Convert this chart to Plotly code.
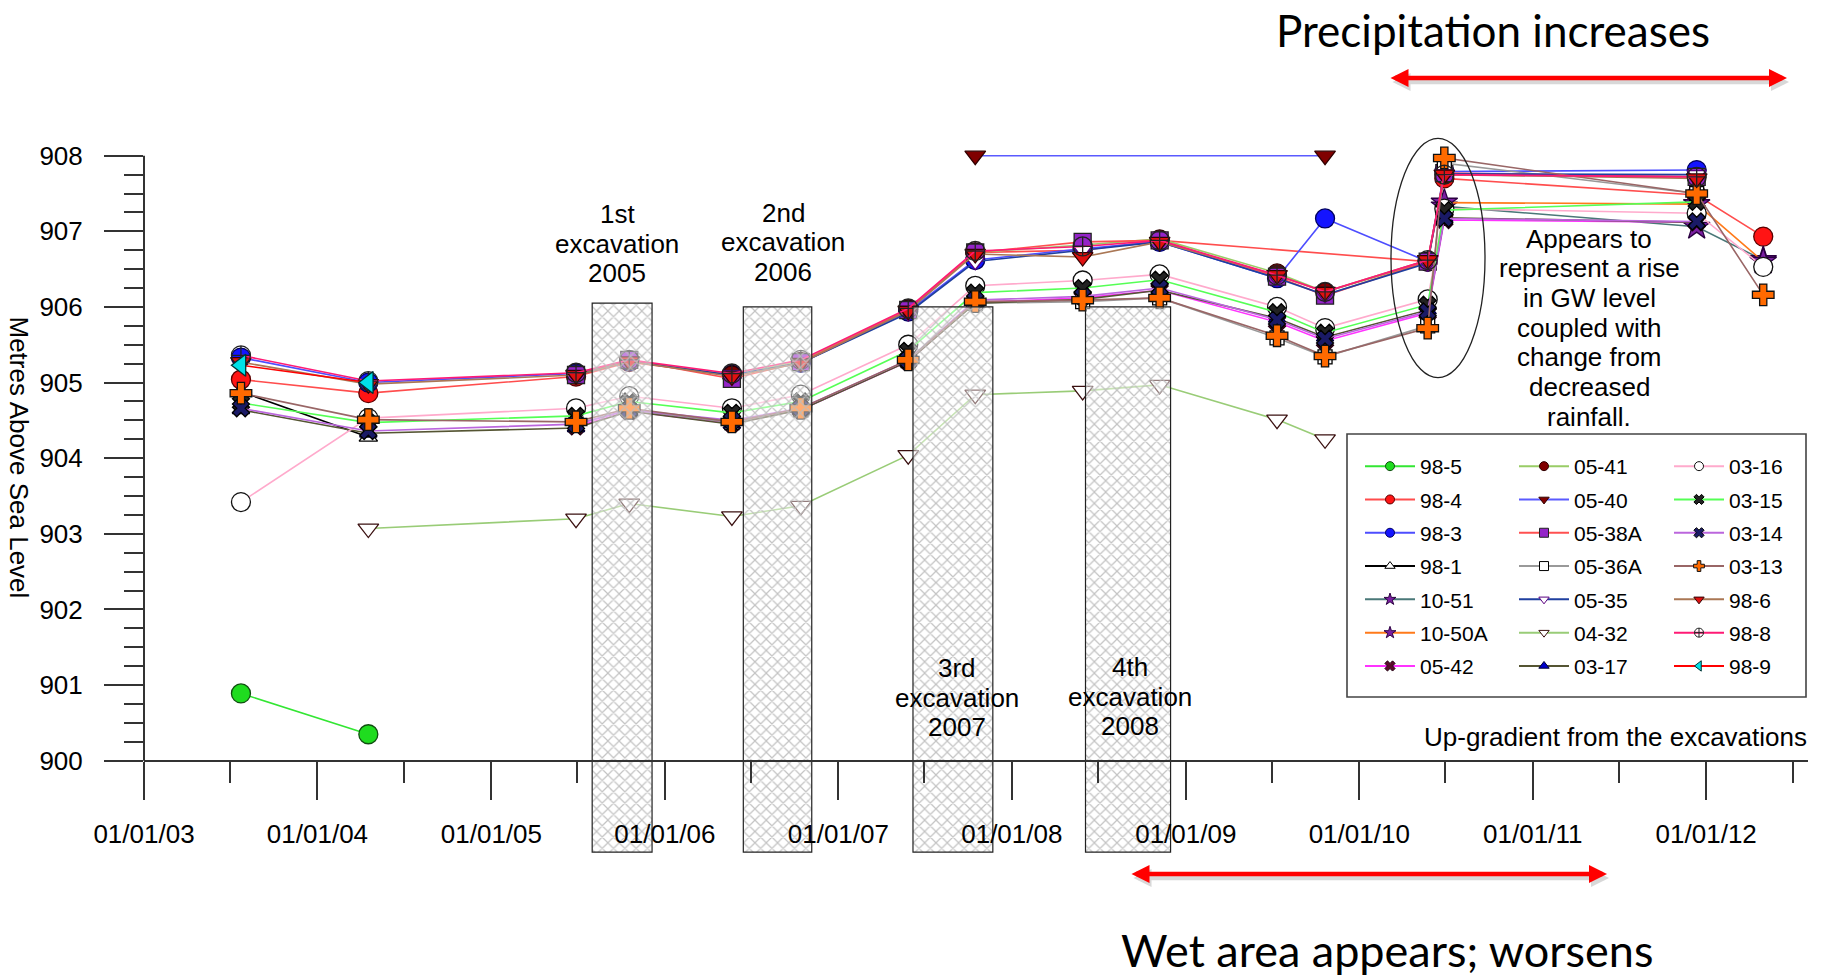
import datetime as dt
import plotly.graph_objects as go

# ---------------- data ----------------
dates = ['2003-07-24', '2004-04-17', '2005-06-28', '2005-10-18', '2006-05-22',
         '2006-10-14', '2007-05-28', '2007-10-16', '2008-05-29', '2008-11-07',
         '2009-07-12', '2009-10-21', '2010-05-25', '2010-06-29', '2011-12-12',
         '2012-04-30']
N = None
w98_5 = [900.89, 900.35, N, N, N, N, N, N, N, N, N, N, N, N, N, N]
w98_4 = [905.04, 904.86, 905.08, 905.27, 905.10, 905.27, 905.97, 906.72, 906.75, 906.88, N, N, 906.60, 907.70, 907.48, 906.93]
w98_3 = [905.33, 905.00, 905.12, 905.28, 905.10, 905.26, 905.94, 906.62, 906.77, 906.86, 906.38, 907.17, 906.60, 907.79, 907.81, N]
w98_1 = [904.88, 904.28, N, N, N, N, N, N, N, N, N, N, N, N, N, N]
w10_51 = [N, N, N, N, N, N, N, N, N, N, N, N, N, 907.33, 907.06, 906.62]
w10_50A = [N, N, N, N, N, N, N, N, N, N, N, N, N, 907.38, 907.36, 906.60]
w05_42 = [N, N, 904.42, 904.62, 904.46, 904.64, 905.28, 906.06, 906.12, 906.22, 905.80, 905.55, 905.92, 907.15, 907.12, N]
w05_41 = [N, N, 905.10, 905.29, 905.10, 905.28, 905.97, 906.72, 906.82, 906.90, 906.45, 906.20, 906.60, 907.75, 907.72, N]
w05_40 = [N, N, N, N, N, N, N, 908.0, N, N, N, 908.0, N, N, N, N]
w05_38A = [N, N, 905.10, 905.30, 905.05, 905.27, 905.96, 906.72, 906.86, 906.88, 906.40, 906.15, 906.60, 907.77, 907.72, N]
w05_36A = [N, N, 904.45, 904.64, 904.47, 904.64, 905.29, 906.05, 906.07, 906.12, 905.59, 905.34, 905.75, 907.90, 907.50, N]
w05_35 = [N, N, 905.10, 905.28, 905.10, 905.26, 905.92, 906.60, 906.75, 906.86, 906.38, 906.16, 906.58, 907.76, 907.75, N]
w04_32 = [N, 903.07, 903.20, 903.40, 903.23, 903.37, 904.04, 904.84, 904.89, 904.97, 904.51, 904.25, N, N, N, N]
w03_17 = [904.64, 904.33, 904.40, 904.62, 904.45, 904.64, 905.28, 906.05, 906.10, 906.22, 905.85, 905.60, 905.96, 907.18, 907.12, N]
w03_16 = [903.42, 904.53, 904.66, 904.82, 904.66, 904.84, 905.50, 906.28, 906.35, 906.43, 906.00, 905.72, 906.10, 907.30, 907.24, 906.53]
w03_15 = [904.73, 904.47, 904.56, 904.75, 904.60, 904.75, 905.42, 906.19, 906.25, 906.36, 905.93, 905.66, 906.03, 907.28, 907.39, N]
w03_14 = [904.66, 904.36, 904.45, 904.64, 904.50, 904.66, 905.30, 906.09, 906.14, 906.25, 905.83, 905.58, 905.94, 907.17, 907.13, N]
w03_13 = [904.86, 904.51, 904.48, 904.66, 904.48, 904.66, 905.30, 906.07, 906.09, 906.12, 905.62, 905.35, 905.72, 907.97, 907.50, 906.16]
w98_6 = [905.27, 904.98, 905.10, 905.28, 905.08, 905.26, 905.95, 906.70, 906.66, 906.86, 906.42, 906.20, 906.62, 907.75, 907.70, N]
w98_8 = [905.36, 905.02, 905.13, 905.30, 905.12, 905.30, 905.98, 906.74, 906.80, 906.88, 906.42, 906.20, 906.62, 907.75, 907.72, N]
w98_9 = [905.23, 905.00, N, N, N, N, N, N, N, N, N, N, N, N, N, N]

exc_start = ['2005-08-01', '2006-06-15', '2007-06-07', '2008-06-04']
exc_end = ['2005-12-05', '2006-11-06', '2007-11-22', '2008-11-30']
exc_top = [906.05, 906.0, 906.0, 906.0]
exc_base = 898.79
exc_labels = [['1st', 'excavation', '2005'], ['2nd', 'excavation', '2006'],
              ['3rd', 'excavation', '2007'], ['4th', 'excavation', '2008']]

x_tick_dates = ['%d-01-01' % y for y in range(2003, 2013)]
x_tick_text = ['01/01/%02d' % (y % 100) for y in range(2003, 2013)]
x_minor_dates = ['%d-07-01' % y for y in range(2003, 2013)]
y_ticks = [900, 901, 902, 903, 904, 905, 906, 907, 908]
y_minor = [900 + 0.25 * i for i in range(33) if i % 4]

note_lines = ['Appears to', 'represent a rise', 'in GW level', 'coupled with',
              'change from', 'decreased', 'rainfall.']

# (name, values, line colour, symbol, fill, outline, size, legend)
series = [
    ('98-5', w98_5, '#33e633', 'circle', '#1fdc1f', '#0f4f0f', 19, 1),
    ('98-4', w98_4, '#ff4d4d', 'circle', '#ff1414', '#5a0000', 19, 1),
    ('98-3', w98_3, '#4d4dff', 'circle', '#1414ff', '#000060', 19, 1),
    ('98-1', w98_1, '#000000', 'triangle-up', '#ffffff', '#000000', 16, 1),
    ('10-51', w10_51, '#4a7878', 'star', '#7b1fa2', '#2a0040', 20, 1),
    ('10-50A', w10_50A, '#ff7a1a', 'star', '#7b1fa2', '#2a0040', 20, 1),
    ('05-42', w05_42, '#ff33ff', 'x', '#5a0a2a', '#220011', 15, 1),
    ('05-41', w05_41, '#99cc66', 'circle', '#800000', '#300000', 18, 2),
    ('05-40', w05_40, '#5a5aff', 'triangle-down', '#800000', '#300000', 18, 2),
    ('05-38A', w05_38A, '#ff5050', 'square', '#9424c8', '#222222', 17, 2),
    ('05-36A', w05_36A, '#999999', 'square', '#ffffff', '#000000', 14, 2),
    ('05-35', w05_35, '#1f3f9f', 'triangle-down', '#ffffff', '#5a0080', 16, 2),
    ('04-32', w04_32, '#99cc77', 'triangle-down', '#ffffff', '#3a1010', 18, 2),
    ('03-17', w03_17, '#555533', 'triangle-up', '#0000cc', '#000033', 15, 2),
    ('03-16', w03_16, '#ffaacc', 'circle', '#ffffff', '#111111', 19, 3),
    ('03-15', w03_15, '#55ff55', 'x', '#222222', '#000000', 15, 3),
    ('03-14', w03_14, '#bb66dd', 'x', '#1a1a66', '#000000', 15, 3),
    ('03-13', w03_13, '#996666', 'cross', '#ff6a00', '#111111', 18, 3),
    ('98-6', w98_6, '#aa7755', 'triangle-down', '#e01010', '#330000', 18, 3),
    ('98-8', w98_8, '#ff1a75', 'circle-cross', 'rgba(255,255,255,0)', '#222222', 19, 3),
    ('98-9', w98_9, '#ff0000', 'triangle-left', '#00e0e8', '#003333', 19, 3),
]

# ---------------- geometry ----------------
W, H = 1825, 980
ML, MR, MT, MB = 144, 17, 130, 120
PW, PH = W - ML - MR, H - MT - MB
X0 = dt.datetime(2003, 1, 1)
PX_PER_DAY = (1706 - 143.8) / 3287.0
X1 = X0 + dt.timedelta(days=PW / PX_PER_DAY)
PX_PER_M = 75.625
Y900_PX = 760.7
YMIN = 900 - (H - MB - Y900_PX) / PX_PER_M
YMAX = YMIN + PH / PX_PER_M
XAXIS_POS = (900 - YMIN) / (YMAX - YMIN)


def xp(px):
    return (px - ML) / PW


def yp(py):
    return (H - MB - py) / PH


ARIAL = 'Liberation Sans, Arial, sans-serif'
CALIBRI = 'Lato, Carlito, sans-serif'

fig = go.Figure()

for name, vals, lc, sym, fill, oc, size, leg in series:
    lg = 'legend' if leg == 1 else 'legend%d' % leg
    fig.add_trace(go.Scatter(
        x=dates, y=vals, mode='lines+markers', name=name, connectgaps=True,
        line=dict(color=lc, width=1.6),
        marker=dict(symbol=sym, color=fill, size=size, line=dict(color=oc, width=1.3)),
        showlegend=False, legendgroup=name, cliponaxis=False))
    fig.add_trace(go.Scatter(
        x=[None], y=[None], mode='lines+markers', name=name, legend=lg,
        legendgroup=name,
        line=dict(color=lc, width=2),
        marker=dict(symbol=sym, color=fill, size=9, line=dict(color=oc, width=1)),
        showlegend=True))

# excavation boxes (hatched), drawn on an overlaying subplot so they sit on top
s_dt = [dt.datetime.fromisoformat(s) for s in exc_start]
e_dt = [dt.datetime.fromisoformat(e) for e in exc_end]
centers = [a + (b - a) / 2 for a, b in zip(s_dt, e_dt)]
widths = [(b - a).total_seconds() * 1000 for a, b in zip(s_dt, e_dt)]
fig.add_trace(go.Bar(
    x=centers, y=[t - exc_base for t in exc_top], base=exc_base, width=widths,
    xaxis='x2', yaxis='y2', showlegend=False, hoverinfo='skip',
    marker=dict(color='rgba(255,255,255,0.45)',
                line=dict(color='#222222', width=1.2),
                pattern=dict(shape='x', fgcolor='#bdbdbd', fgopacity=0.9,
                             bgcolor='rgba(255,255,255,0.45)', size=8, solidity=0.28))))

ann = []
# excavation labels
lab_x = [617, 783, 956.5, 1130]
lab_y = [214, 213, 668, 667]
for lines, cx, cy in zip(exc_labels, lab_x, lab_y):
    for i, t in enumerate(lines):
        ann.append(dict(text=t, x=xp(cx), y=yp(cy + i * 29.5), xref='paper', yref='paper',
                        showarrow=False, xanchor='center', yanchor='middle',
                        font=dict(family=ARIAL, size=26, color='#000')))
# note on the right
for i, t in enumerate(note_lines):
    ann.append(dict(text=t, x=xp(1589), y=yp(238.5 + i * 29.7), xref='paper', yref='paper',
                    showarrow=False, xanchor='center', yanchor='middle',
                    font=dict(family=ARIAL, size=26, color='#000')))
ann.append(dict(text='Up-gradient from the excavations', x=xp(1809), y=yp(736.7),
                xref='paper', yref='paper', showarrow=False, xanchor='right',
                yanchor='middle', font=dict(family=ARIAL, size=26, color='#000')))
ann.append(dict(text='Metres Above Sea Level', x=xp(19), y=yp(457.5), xref='paper',
                yref='paper', showarrow=False, textangle=90, xanchor='center',
                yanchor='middle', font=dict(family=ARIAL, size=26, color='#000')))
ann.append(dict(text='Precipitation increases', x=xp(1493), y=yp(2), xref='paper',
                yref='paper', showarrow=False, xanchor='center', yanchor='top',
                font=dict(family=CALIBRI, size=44, color='#000')))
ann.append(dict(text='Wet area appears; worsens', x=xp(1387), y=yp(950), xref='paper',
                yref='paper', showarrow=False, xanchor='center', yanchor='middle',
                font=dict(family=CALIBRI, size=45, color='#000')))
# double-headed red arrows (with soft shadow)
for (tx, ty, tail) in [(1787, 78, 1389), (1607, 874, 1130)]:
    for dx, dy, col in [(2, 4, 'rgba(0,0,0,0.15)'), (0, 0, '#ff0000')]:
        ann.append(dict(text='', x=xp(tx + dx), y=yp(ty + dy), xref='paper', yref='paper',
                        ax=tail - tx, ay=0, axref='pixel', ayref='pixel', showarrow=True,
                        arrowside='end+start', arrowhead=2, startarrowhead=2,
                        arrowsize=0.8, startarrowsize=0.8, arrowwidth=4.5,
                        arrowcolor=col, standoff=0, startstandoff=0))

shapes = [
    # y axis line from 900 to 908
    dict(type='line', xref='paper', yref='y', x0=0, x1=0, y0=900, y1=908,
         line=dict(color='#333333', width=2)),
    # ellipse
    dict(type='circle', xref='paper', yref='paper', x0=xp(1391), x1=xp(1485),
         y0=yp(377.7), y1=yp(138.3), line=dict(color='#222222', width=1.3)),
    # legend box
    dict(type='rect', xref='paper', yref='paper', x0=xp(1347), x1=xp(1806),
         y0=yp(697), y1=yp(434), line=dict(color='#444444', width=1.6),
         fillcolor='white', layer='below'),
]

legend_common = dict(bgcolor='rgba(0,0,0,0)', borderwidth=0, xanchor='left', yanchor='top',
                     font=dict(family=ARIAL, size=21, color='#000'), itemwidth=50,
                     tracegroupgap=3, itemclick=False, itemdoubleclick=False)
leg_x = [1360, 1514, 1669]

fig.update_layout(
    width=W, height=H, autosize=False,
    margin=dict(l=ML, r=MR, t=MT, b=MB, pad=0),
    paper_bgcolor='white', plot_bgcolor='white',
    showlegend=True,
    legend=dict(x=xp(leg_x[0]), y=yp(446), **legend_common),
    legend2=dict(x=xp(leg_x[1]), y=yp(446), **legend_common),
    legend3=dict(x=xp(leg_x[2]), y=yp(446), **legend_common),
    xaxis=dict(type='date', range=[X0, X1], anchor='free', position=XAXIS_POS,
               showgrid=False, zeroline=False, showline=True, linecolor='#333333',
               linewidth=2, ticks='outside', ticklen=38, tickwidth=1.5,
               tickcolor='#333333', tickmode='array', tickvals=x_tick_dates,
               ticktext=x_tick_text, ticklabelstandoff=12,
               tickfont=dict(family=ARIAL, size=26, color='#000'),
               minor=dict(tickmode='array', tickvals=x_minor_dates, ticks='outside',
                          ticklen=21, tickwidth=1.5, tickcolor='#333333', showgrid=False)),
    yaxis=dict(range=[YMIN, YMAX], showgrid=False, zeroline=False, showline=False,
               ticks='outside', ticklen=39, tickwidth=1.5, tickcolor='#333333',
               tickmode='array', tickvals=y_ticks, ticklabelstandoff=16,
               tickfont=dict(family=ARIAL, size=26, color='#000'),
               minor=dict(tickmode='array', tickvals=y_minor, ticks='outside',
                          ticklen=19, tickwidth=1.5, tickcolor='#333333', showgrid=False)),
    xaxis2=dict(type='date', range=[X0, X1], overlaying='x', anchor='y2', visible=False,
                showgrid=False, zeroline=False),
    yaxis2=dict(range=[YMIN, YMAX], overlaying='y', anchor='x2', visible=False,
                showgrid=False, zeroline=False),
    annotations=ann, shapes=shapes, hovermode='closest',
)

fig.write_html('out.html', config={'displayModeBar': False},
               post_script="document.body.style.margin='0';")
